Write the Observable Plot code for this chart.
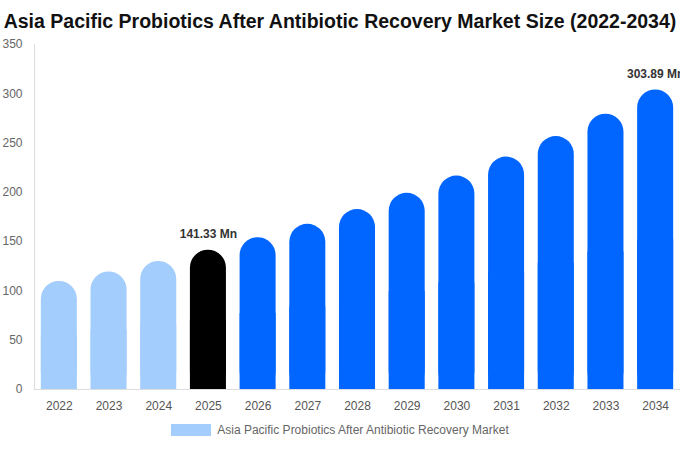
<!DOCTYPE html>
<html>
<head>
<meta charset="utf-8">
<script src="https://cdn.jsdelivr.net/npm/d3@7"></script>
<script src="https://cdn.jsdelivr.net/npm/@observablehq/plot@0.6"></script>
<style>
  html, body { margin: 0; padding: 0; background: #fff; overflow: hidden; }
  body { width: 680px; height: 450px; font-family: "Liberation Sans", Arial, sans-serif; }
  #title { height: 35px; box-sizing: border-box; padding-top: 10px; text-align: center; font-weight: bold; font-size: 19.5px; color: #111; white-space: nowrap; line-height: 23px; }
  #legend { display: flex; justify-content: center; align-items: center; margin-top: 3px; font-size: 12px; color: #666; }
  #legend .sw { width: 40px; height: 12px; background: #a2cdfd; margin-right: 6px; }
</style>
</head>
<body>
<div id="title">Asia Pacific Probiotics After Antibiotic Recovery Market Size (2022-2034)</div>
<div id="chart"></div>
<div id="legend"><span class="sw"></span><span>Asia Pacific Probiotics After Antibiotic Recovery Market</span></div>
<script>
const years = [2022, 2023, 2024, 2025, 2026, 2027, 2028, 2029, 2030, 2031, 2032, 2033, 2034];
const values = [109.6, 119.3, 129.9, 141.33, 154.0, 167.6, 182.6, 199.0, 216.5, 235.8, 256.6, 279.3, 303.89];
const baseYear = 2025;
const labelledYears = [2025, 2034];
const yTicks = [0, 50, 100, 150, 200, 250, 300, 350];

const data = years.map((y, i) => ({
  year: String(y),
  value: values[i],
  phase: y < baseYear ? "historical" : y === baseYear ? "base" : "forecast"
}));
const labels = data.filter(d => labelledYears.includes(+d.year));

const W = 680, ML = 34, MR = 0, PI = 0.275, PO = 0.1375;
const step = (W - ML - MR) / (years.length - PI + 2 * PO);
const radius = step * (1 - PI) / 2;

const chart = Plot.plot({
  width: W,
  height: 385,
  marginTop: 9,
  marginBottom: 31,
  marginLeft: ML,
  marginRight: MR,
  style: { fontFamily: "Liberation Sans, Arial, sans-serif", fontSize: "12px", background: "transparent" },
  x: { domain: years.map(String), paddingInner: PI, paddingOuter: PO, round: false, label: null },
  y: { domain: [0, 350], label: null },
  color: { domain: ["historical", "base", "forecast"], range: ["#a2cdfd", "#000000", "#0066ff"] },
  marks: [
    Plot.frame({ anchor: "left", stroke: "#dddddd" }),
    Plot.ruleY([0], { stroke: "#dddddd" }),
    Plot.barY(data, { x: "year", y: "value", fill: "phase", rx: radius, ry: radius }),
    Plot.barY(data, { x: "year", y: d => d.value / 2, fill: "phase" }),
    Plot.axisY({ ticks: yTicks, tickSize: 0, tickPadding: 12, fill: "#666", fontSize: 12, label: null }),
    Plot.axisX({ tickSize: 0, tickPadding: 12, fill: "#555", fontSize: 12, label: null }),
    Plot.text(labels, { x: "year", y: "value", text: d => d.value.toFixed(2) + " Mn", dy: -16, fontWeight: "bold", fontSize: 12, fill: "#333" })
  ]
});
document.getElementById("chart").appendChild(chart);
</script>
</body>
</html>
